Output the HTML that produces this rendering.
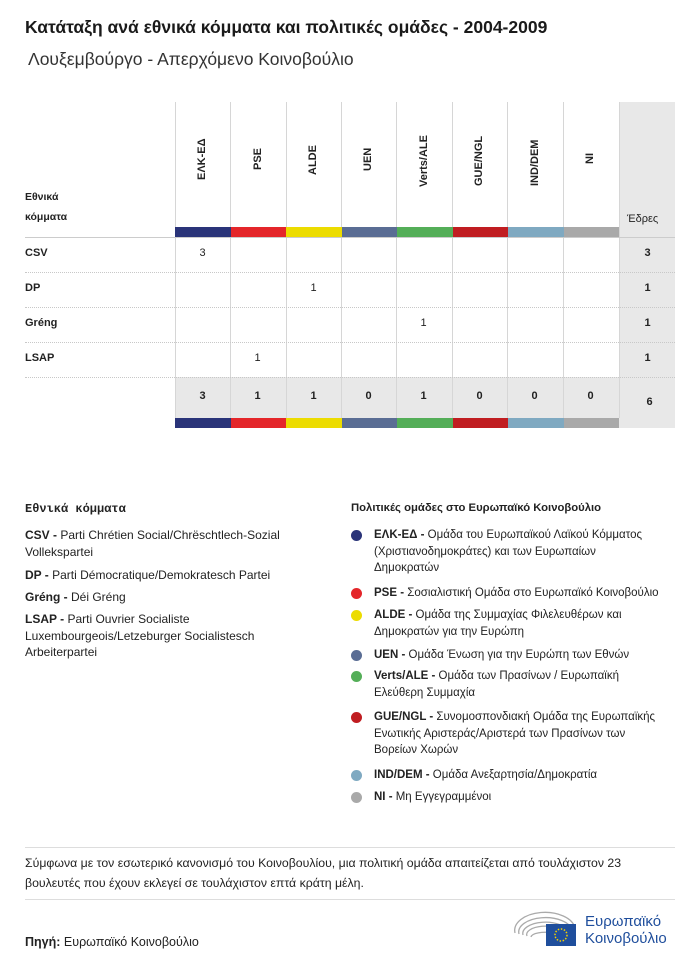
<!DOCTYPE html>
<html><head><meta charset="utf-8"><style>
body{margin:0;background:#fff;font-family:"Liberation Sans","DejaVu Sans",sans-serif;color:#222;}
#p{position:relative;width:700px;height:968px;overflow:hidden;}
.a{position:absolute;white-space:nowrap;}
.t{font-size:12px;line-height:16.5px;}
.r{font-size:11.5px;}
b{font-weight:bold;}
.vl{position:absolute;top:102px;width:1px;height:316px;background:#d6d6d6;}
.hd{position:absolute;width:120px;text-align:left;transform:rotate(-90deg);transform-origin:0 0;font-size:11px;font-weight:bold;}
.hl{position:absolute;left:25px;width:650px;height:0;border-top:1px dotted #c8c8c8;}
.c{position:absolute;width:55px;text-align:center;font-size:11px;}
.dot{position:absolute;left:351px;width:11px;height:11px;border-radius:50%;}
</style></head><body><div id="p">
<div class="a" style="left:25px;top:17px;font-size:17.5px;font-weight:bold;color:#1a1a1a">Κατάταξη ανά εθνικά κόμματα και πολιτικές ομάδες - 2004-2009</div>
<div class="a" style="left:28px;top:49px;font-size:17.5px;color:#333">Λουξεμβούργο - Απερχόμενο Κοινοβούλιο</div>

<div class="a" style="left:619px;top:102px;width:56px;height:326px;background:#e8e8e8"></div>
<div class="a" style="left:175px;top:377px;width:444px;height:41px;background:#e8e8e8"></div>

<div class="vl" style="left:175px"></div><div class="vl" style="left:230px"></div><div class="vl" style="left:286px"></div><div class="vl" style="left:341px"></div><div class="vl" style="left:396px"></div><div class="vl" style="left:452px"></div><div class="vl" style="left:507px"></div><div class="vl" style="left:563px"></div><div class="vl" style="left:619px"></div>

<div class="hd" style="left:196px;top:180px">ΕΛΚ-ΕΔ</div>
<div class="hd" style="left:252px;top:170px">PSE</div>
<div class="hd" style="left:307px;top:175px">ALDE</div>
<div class="hd" style="left:362px;top:171px">UEN</div>
<div class="hd" style="left:418px;top:187px">Verts/ALE</div>
<div class="hd" style="left:473px;top:186px">GUE/NGL</div>
<div class="hd" style="left:529px;top:186px">IND/DEM</div>
<div class="hd" style="left:584px;top:164px">NI</div>

<div class="a" style="left:25px;top:187px;font-weight:bold;font-size:10.5px;line-height:20px">Εθνικά<br>κόμματα</div>
<div class="a" style="left:627px;top:213px;font-size:11px">Έδρες</div>

<div class="a" style="left:175px;top:227px;width:444px;height:10px;display:flex">
<div style="flex:1;background:#2a3479"></div><div style="flex:1;background:#e4262a"></div><div style="flex:1;background:#ecdc00"></div><div style="flex:1;background:#5a6d94"></div><div style="flex:1;background:#54ae58"></div><div style="flex:1;background:#c01d21"></div><div style="flex:1;background:#7fa9c1"></div><div style="flex:1;background:#a9a9a9"></div></div>
<div class="a" style="left:175px;top:418px;width:444px;height:10px;display:flex">
<div style="flex:1;background:#2a3479"></div><div style="flex:1;background:#e4262a"></div><div style="flex:1;background:#ecdc00"></div><div style="flex:1;background:#5a6d94"></div><div style="flex:1;background:#54ae58"></div><div style="flex:1;background:#c01d21"></div><div style="flex:1;background:#7fa9c1"></div><div style="flex:1;background:#a9a9a9"></div></div>

<div class="hl" style="top:237px;border-top:1px solid #ccc"></div>
<div class="hl" style="top:272px"></div><div class="hl" style="top:307px"></div><div class="hl" style="top:342px"></div><div class="hl" style="top:377px"></div>

<div class="a" style="left:25px;top:247px;font-size:11px;font-weight:bold">CSV</div>
<div class="a" style="left:25px;top:282px;font-size:11px;font-weight:bold">DP</div>
<div class="a" style="left:25px;top:317px;font-size:11px;font-weight:bold">Gréng</div>
<div class="a" style="left:25px;top:352px;font-size:11px;font-weight:bold">LSAP</div>

<div class="c" style="left:175px;top:247px">3</div>
<div class="c" style="left:286px;top:282px">1</div>
<div class="c" style="left:396px;top:317px">1</div>
<div class="c" style="left:230px;top:352px">1</div>
<div class="c" style="left:620px;top:247px;font-weight:bold">3</div>
<div class="c" style="left:620px;top:282px;font-weight:bold">1</div>
<div class="c" style="left:620px;top:317px;font-weight:bold">1</div>
<div class="c" style="left:620px;top:352px;font-weight:bold">1</div>
<div class="c" style="left:175px;top:390px;font-weight:bold">3</div>
<div class="c" style="left:230px;top:390px;font-weight:bold">1</div>
<div class="c" style="left:286px;top:390px;font-weight:bold">1</div>
<div class="c" style="left:341px;top:390px;font-weight:bold">0</div>
<div class="c" style="left:396px;top:390px;font-weight:bold">1</div>
<div class="c" style="left:452px;top:390px;font-weight:bold">0</div>
<div class="c" style="left:507px;top:390px;font-weight:bold">0</div>
<div class="c" style="left:563px;top:390px;font-weight:bold">0</div>
<div class="c" style="left:622px;top:396px;font-weight:bold">6</div>

<div class="a" style="left:25px;top:502px;font-size:12px;font-weight:bold;font-family:'Liberation Mono',monospace">Εθνικά κόμματα</div>
<div class="a t" style="left:25px;top:527px"><b>CSV -</b> Parti Chrétien Social/Chrëschtlech-Sozial<br>Vollekspartei</div>
<div class="a t" style="left:25px;top:567px"><b>DP -</b> Parti Démocratique/Demokratesch Partei</div>
<div class="a t" style="left:25px;top:589px"><b>Gréng -</b> Déi Gréng</div>
<div class="a t" style="left:25px;top:611px"><b>LSAP -</b> Parti Ouvrier Socialiste<br>Luxembourgeois/Letzeburger Socialistesch<br>Arbeiterpartei</div>

<div class="a" style="left:351px;top:502px;font-size:11.3px;font-weight:bold">Πολιτικές ομάδες στο Ευρωπαϊκό Κοινοβούλιο</div>
<div class="dot" style="top:530px;background:#2a3479"></div>
<div class="a t r" style="left:374px;top:527px"><b>ΕΛΚ-ΕΔ -</b> Ομάδα του Ευρωπαϊκού Λαϊκού Κόμματος<br>(Χριστιανοδημοκράτες) και των Ευρωπαίων<br>Δημοκρατών</div>
<div class="dot" style="top:588px;background:#e4262a"></div>
<div class="a t r" style="left:374px;top:585px"><b>PSE -</b> Σοσιαλιστική Ομάδα στο Ευρωπαϊκό Κοινοβούλιο</div>
<div class="dot" style="top:610px;background:#ecdc00"></div>
<div class="a t r" style="left:374px;top:607px"><b>ALDE -</b> Ομάδα της Συμμαχίας Φιλελευθέρων και<br>Δημοκρατών για την Ευρώπη</div>
<div class="dot" style="top:650px;background:#5a6d94"></div>
<div class="a t r" style="left:374px;top:647px"><b>UEN -</b> Ομάδα Ένωση για την Ευρώπη των Εθνών</div>
<div class="dot" style="top:671px;background:#54ae58"></div>
<div class="a t r" style="left:374px;top:668px"><b>Verts/ALE -</b> Ομάδα των Πρασίνων / Ευρωπαϊκή<br>Ελεύθερη Συμμαχία</div>
<div class="dot" style="top:712px;background:#c01d21"></div>
<div class="a t r" style="left:374px;top:709px"><b>GUE/NGL -</b> Συνομοσπονδιακή Ομάδα της Ευρωπαϊκής<br>Ενωτικής Αριστεράς/Αριστερά των Πρασίνων των<br>Βορείων Χωρών</div>
<div class="dot" style="top:770px;background:#7fa9c1"></div>
<div class="a t r" style="left:374px;top:767px"><b>IND/DEM -</b> Ομάδα Ανεξαρτησία/Δημοκρατία</div>
<div class="dot" style="top:792px;background:#a9a9a9"></div>
<div class="a t r" style="left:374px;top:789px"><b>NI -</b> Μη Εγγεγραμμένοι</div>

<div class="a" style="left:25px;top:847px;width:650px;border-top:1px solid #ddd"></div>
<div class="a" style="left:25px;top:853px;font-size:12.3px;line-height:20px">Σύμφωνα με τον εσωτερικό κανονισμό του Κοινοβουλίου, μια πολιτική ομάδα απαιτείζεται από τουλάχιστον 23<br>βουλευτές που έχουν εκλεγεί σε τουλάχιστον επτά κράτη μέλη.</div>
<div class="a" style="left:25px;top:899px;width:650px;border-top:1px solid #ddd"></div>
<div class="a" style="left:25px;top:935px;font-size:12.5px"><b>Πηγή:</b> Ευρωπαϊκό Κοινοβούλιο</div>

<svg class="a" style="left:512px;top:908px" width="70" height="40">
<g fill="none" stroke="#aaa" stroke-width="1.3">
<path d="M3 25 A30 18 0 0 1 63 20"/><path d="M7 26 A26 14 0 0 1 60 22"/><path d="M11 27 A22 11 0 0 1 56 24"/><path d="M15 28 A18 8 0 0 1 52 25"/><path d="M19 29 A14 5 0 0 1 40 25"/></g>
<rect x="34" y="16" width="30" height="22" fill="#1f4e9c"/>
<circle cx="49" cy="27" r="6" fill="none" stroke="#f4d000" stroke-width="1.5" stroke-dasharray="1.5 1.6"/>
</svg>
<div class="a" style="left:585px;top:913px;font-size:15px;line-height:17px;color:#1f4e9c">Ευρωπαϊκό<br>Κοινοβούλιο</div>
</div></body></html>
